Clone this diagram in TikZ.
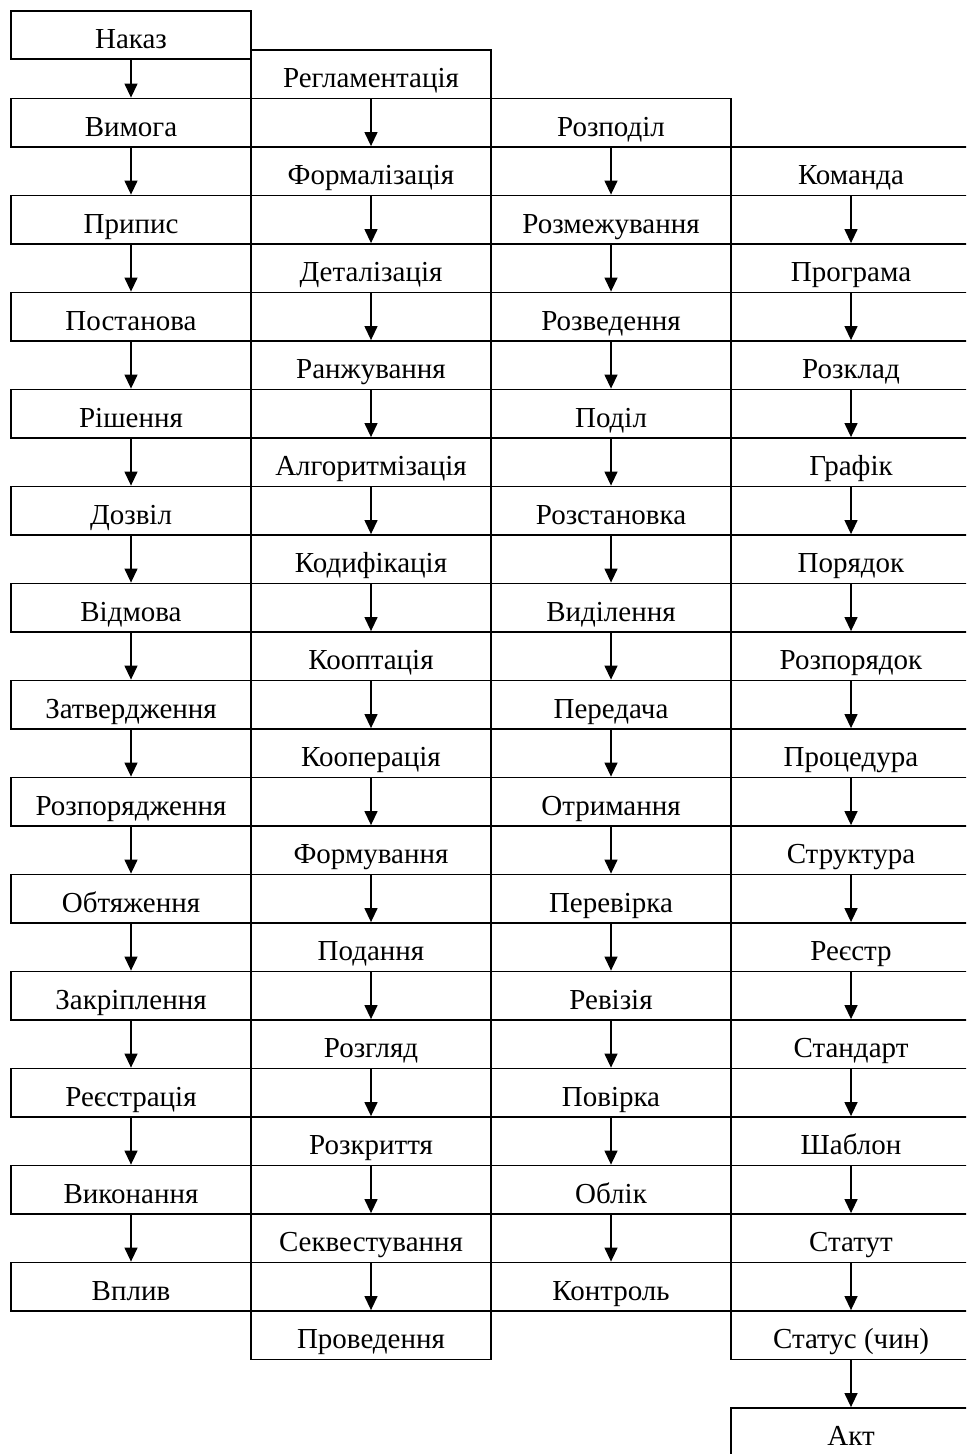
\documentclass[tikz,border=0pt]{standalone}
\usepackage{fontspec}
\setmainfont{Liberation Serif}
\usepackage{tikz}
\usetikzlibrary{arrows.meta,positioning}
\tikzset{
  >={Triangle[length=7pt,width=6.5pt]},
  % cells
  cell/.style={rectangle,draw=black,line width=0.9pt,inner sep=0pt,
               minimum width=120pt,minimum height=24.25pt,
               text height=13.4pt,text depth=0pt,
               font=\fontsize{14.5pt}{17pt}\selectfont},
  flow/.style={->,draw=black,line width=0.65pt},
}
\begin{document}
\begin{tikzpicture}[x=0.5pt,y=-0.5pt]
\useasboundingbox (0,0) rectangle (966,1454);
\clip (0,0) rectangle (966,1454);
  % column 1
  \node[cell,minimum height=24pt] (a1) at (131,35) {Наказ};
  \node[cell] (a2) at (131,122.75) {Вимога};
  \node[cell] (a3) at (131,219.75) {Припис};
  \node[cell] (a4) at (131,316.75) {Постанова};
  \node[cell] (a5) at (131,413.75) {Рішення};
  \node[cell] (a6) at (131,510.75) {Дозвіл};
  \node[cell] (a7) at (131,607.75) {Відмова};
  \node[cell] (a8) at (131,704.75) {Затвердження};
  \node[cell] (a9) at (131,801.75) {Розпорядження};
  \node[cell] (a10) at (131,898.75) {Обтяження};
  \node[cell] (a11) at (131,995.75) {Закріплення};
  \node[cell] (a12) at (131,1092.75) {Реєстрація};
  \node[cell] (a13) at (131,1189.75) {Виконання};
  \node[cell] (a14) at (131,1286.75) {Вплив};
  % column 2
  \node[cell] (b1) at (371,74.25) {Регламентація};
  \node[cell] (b2) at (371,171.25) {Формалізація};
  \node[cell] (b3) at (371,268.25) {Деталізація};
  \node[cell] (b4) at (371,365.25) {Ранжування};
  \node[cell] (b5) at (371,462.25) {Алгоритмізація};
  \node[cell] (b6) at (371,559.25) {Кодифікація};
  \node[cell] (b7) at (371,656.25) {Кооптація};
  \node[cell] (b8) at (371,753.25) {Кооперація};
  \node[cell] (b9) at (371,850.25) {Формування};
  \node[cell] (b10) at (371,947.25) {Подання};
  \node[cell] (b11) at (371,1044.25) {Розгляд};
  \node[cell] (b12) at (371,1141.25) {Розкриття};
  \node[cell] (b13) at (371,1238.25) {Секвестування};
  \node[cell] (b14) at (371,1335.25) {Проведення};
  % column 3
  \node[cell] (c1) at (611,122.75) {Розподіл};
  \node[cell] (c2) at (611,219.75) {Розмежування};
  \node[cell] (c3) at (611,316.75) {Розведення};
  \node[cell] (c4) at (611,413.75) {Поділ};
  \node[cell] (c5) at (611,510.75) {Розстановка};
  \node[cell] (c6) at (611,607.75) {Виділення};
  \node[cell] (c7) at (611,704.75) {Передача};
  \node[cell] (c8) at (611,801.75) {Отримання};
  \node[cell] (c9) at (611,898.75) {Перевірка};
  \node[cell] (c10) at (611,995.75) {Ревізія};
  \node[cell] (c11) at (611,1092.75) {Повірка};
  \node[cell] (c12) at (611,1189.75) {Облік};
  \node[cell] (c13) at (611,1286.75) {Контроль};
  % column 4
  \node[cell] (d1) at (851,171.25) {Команда};
  \node[cell] (d2) at (851,268.25) {Програма};
  \node[cell] (d3) at (851,365.25) {Розклад};
  \node[cell] (d4) at (851,462.25) {Графік};
  \node[cell] (d5) at (851,559.25) {Порядок};
  \node[cell] (d6) at (851,656.25) {Розпорядок};
  \node[cell] (d7) at (851,753.25) {Процедура};
  \node[cell] (d8) at (851,850.25) {Структура};
  \node[cell] (d9) at (851,947.25) {Реєстр};
  \node[cell] (d10) at (851,1044.25) {Стандарт};
  \node[cell] (d11) at (851,1141.25) {Шаблон};
  \node[cell] (d12) at (851,1238.25) {Статут};
  \node[cell] (d13) at (851,1335.25) {Статус (чин)};
  \node[cell] (d14) at (851,1432.25) {Акт};
  % arrows
  \draw[flow] (a1) -- (a2);
  \draw[flow] (a2) -- (a3);
  \draw[flow] (a3) -- (a4);
  \draw[flow] (a4) -- (a5);
  \draw[flow] (a5) -- (a6);
  \draw[flow] (a6) -- (a7);
  \draw[flow] (a7) -- (a8);
  \draw[flow] (a8) -- (a9);
  \draw[flow] (a9) -- (a10);
  \draw[flow] (a10) -- (a11);
  \draw[flow] (a11) -- (a12);
  \draw[flow] (a12) -- (a13);
  \draw[flow] (a13) -- (a14);
  \draw[flow] (b1) -- (b2);
  \draw[flow] (b2) -- (b3);
  \draw[flow] (b3) -- (b4);
  \draw[flow] (b4) -- (b5);
  \draw[flow] (b5) -- (b6);
  \draw[flow] (b6) -- (b7);
  \draw[flow] (b7) -- (b8);
  \draw[flow] (b8) -- (b9);
  \draw[flow] (b9) -- (b10);
  \draw[flow] (b10) -- (b11);
  \draw[flow] (b11) -- (b12);
  \draw[flow] (b12) -- (b13);
  \draw[flow] (b13) -- (b14);
  \draw[flow] (c1) -- (c2);
  \draw[flow] (c2) -- (c3);
  \draw[flow] (c3) -- (c4);
  \draw[flow] (c4) -- (c5);
  \draw[flow] (c5) -- (c6);
  \draw[flow] (c6) -- (c7);
  \draw[flow] (c7) -- (c8);
  \draw[flow] (c8) -- (c9);
  \draw[flow] (c9) -- (c10);
  \draw[flow] (c10) -- (c11);
  \draw[flow] (c11) -- (c12);
  \draw[flow] (c12) -- (c13);
  \draw[flow] (d1) -- (d2);
  \draw[flow] (d2) -- (d3);
  \draw[flow] (d3) -- (d4);
  \draw[flow] (d4) -- (d5);
  \draw[flow] (d5) -- (d6);
  \draw[flow] (d6) -- (d7);
  \draw[flow] (d7) -- (d8);
  \draw[flow] (d8) -- (d9);
  \draw[flow] (d9) -- (d10);
  \draw[flow] (d10) -- (d11);
  \draw[flow] (d11) -- (d12);
  \draw[flow] (d12) -- (d13);
  \draw[flow] (d13) -- (d14);
\end{tikzpicture}
\end{document}
